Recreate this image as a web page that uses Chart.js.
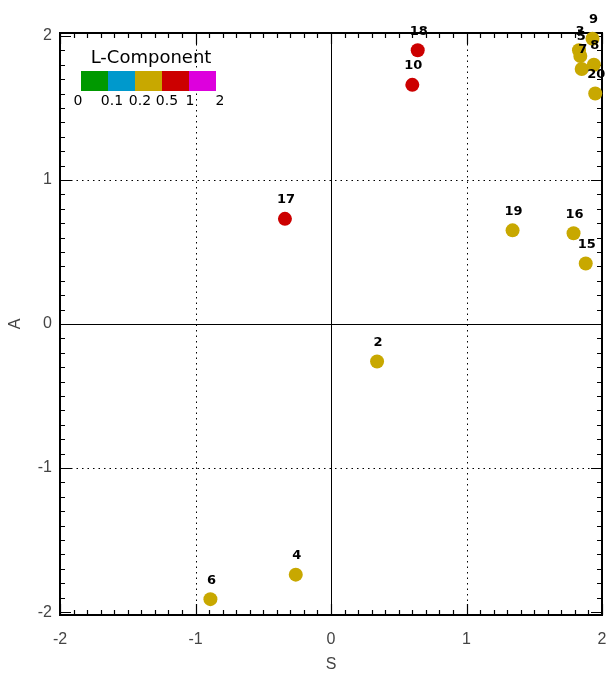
<!DOCTYPE html>
<html>
<head>
<meta charset="utf-8">
<script src="https://cdn.jsdelivr.net/npm/chart.js@4/dist/chart.umd.min.js"></script>
<style>
html,body{margin:0;padding:0;background:#fff;overflow:hidden;}
#wrap{width:607px;height:675px;position:relative;overflow:hidden;}
</style>
</head>
<body>
<div id="wrap"><canvas id="c" width="609" height="675"></canvas></div>
<script>
// ---- data ----
const pointIds = [2, 3, 4, 5, 6, 7, 8, 9, 10, 15, 16, 17, 18, 19, 20];
const sValues  = [0.34, 1.83, -0.26, 1.84, -0.89, 1.85, 1.94, 1.93, 0.60, 1.88, 1.79, -0.34, 0.64, 1.34, 1.95];
const aValues  = [-0.26, 1.90, -1.74, 1.86, -1.91, 1.77, 1.80, 1.98, 1.66, 0.42, 0.63, 0.73, 1.90, 0.65, 1.60];
const lBinIndex = [2, 2, 2, 2, 2, 2, 2, 2, 3, 2, 2, 3, 3, 2, 2];
const binEdgeLabels = ['0', '0.1', '0.2', '0.5', '1', '2'];
const binColors = ['#009900', '#0099cc', '#c8a800', '#cc0000', '#dd00dd'];
const axisTicks = [-2, -1, 0, 1, 2];
const legendTitle = 'L-Component';

const points = sValues.map((s, i) => ({x: s, y: aValues[i]}));
const pointColors = lBinIndex.map(b => binColors[b]);

const framePlugin = {
  id: 'frame',
  beforeDatasetsDraw(chart) {
    const {ctx, chartArea: a, scales: {x, y}} = chart;
    ctx.save();
    ctx.strokeStyle = '#000';
    ctx.lineWidth = 1;
    axisTicks.forEach(v => {
      if (Math.abs(v) === 2) return;
      ctx.setLineDash(v === 0 ? [] : [1.5, 4]);
      const px = Math.round(x.getPixelForValue(v)) + 0.5;
      ctx.beginPath(); ctx.moveTo(px, a.top); ctx.lineTo(px, a.bottom); ctx.stroke();
      const py = Math.round(y.getPixelForValue(v)) + 0.5;
      ctx.beginPath(); ctx.moveTo(a.left, py); ctx.lineTo(a.right, py); ctx.stroke();
    });
    ctx.setLineDash([]);
    ctx.lineWidth = 1.2;
    for (let k = -20; k <= 20; k++) {
      const v = k / 10;
      const len = (k % 10 === 0) ? 11 : 5;
      const px = Math.round(x.getPixelForValue(v)) + 0.5;
      ctx.beginPath();
      ctx.moveTo(px, a.bottom); ctx.lineTo(px, a.bottom - len);
      ctx.moveTo(px, a.top); ctx.lineTo(px, a.top + len);
      ctx.stroke();
      const py = Math.round(y.getPixelForValue(v)) + 0.5;
      ctx.beginPath();
      ctx.moveTo(a.left, py); ctx.lineTo(a.left + len, py);
      ctx.moveTo(a.right, py); ctx.lineTo(a.right - len, py);
      ctx.stroke();
    }
    ctx.lineWidth = 2;
    ctx.strokeRect(a.left, a.top, a.right - a.left, a.bottom - a.top);
    ctx.restore();
  },
  afterDatasetsDraw(chart) {
    const {ctx} = chart;
    const meta = chart.getDatasetMeta(0);
    ctx.save();
    ctx.fillStyle = '#000';
    ctx.font = 'bold 13px "DejaVu Sans"';
    ctx.textAlign = 'center';
    ctx.textBaseline = 'middle';
    meta.data.forEach((el, i) => {
      ctx.fillText(String(pointIds[i]), el.x + 1, el.y - 19);
    });
    const lx = 81, ly = 71, sw = 27, sh = 20;
    ctx.font = '18px "DejaVu Sans"';
    ctx.fillText(legendTitle, 151, 58);
    binColors.forEach((c, i) => {
      ctx.fillStyle = c;
      ctx.fillRect(lx + i * sw, ly, sw, sh);
    });
    ctx.fillStyle = '#000';
    ctx.font = '14px "DejaVu Sans"';
    const labelX = [78, 112, 140, 167, 190, 220];
    binEdgeLabels.forEach((t, i) => ctx.fillText(t, labelX[i], 101));
    ctx.restore();
  }
};

new Chart(document.getElementById('c'), {
  type: 'scatter',
  data: {
    datasets: [{
      data: points,
      pointRadius: 7,
      pointHoverRadius: 7,
      pointBackgroundColor: pointColors,
      pointBorderColor: pointColors,
      pointBorderWidth: 0,
      clip: false
    }]
  },
  options: {
    responsive: false,
    animation: false,
    events: [],
    layout: {padding: {top: 33, right: 0, left: 0, bottom: 0}},
    plugins: {legend: {display: false}, tooltip: {enabled: false}},
    scales: {
      x: {
        type: 'linear', min: -2, max: 2,
        afterBuildTicks: s => { s.ticks = axisTicks.map(v => ({value: v})); },
        afterFit: s => { s.height = 60; s.paddingLeft = 0; s.paddingRight = 0; },
        grid: {display: false}, border: {display: false},
        ticks: {padding: 7, color: '#444', font: {family: 'Liberation Sans', size: 16}, maxRotation: 0},
        title: {display: true, text: 'S', color: '#444', font: {family: 'Liberation Sans', size: 16}, padding: {top: 0, bottom: 1}}
      },
      y: {
        type: 'linear', min: -2.02, max: 2.02,
        afterBuildTicks: s => { s.ticks = axisTicks.map(v => ({value: v})); },
        afterFit: s => { s.width = 60; s.paddingTop = 0; s.paddingBottom = 0; },
        grid: {display: false}, border: {display: false},
        ticks: {padding: 0, color: '#444', font: {family: 'Liberation Sans', size: 16}},
        title: {display: true, text: 'A', color: '#444', font: {family: 'Liberation Sans', size: 16}, padding: {top: 6, bottom: 0}}
      }
    }
  },
  plugins: [framePlugin]
});
</script>
</body>
</html>
